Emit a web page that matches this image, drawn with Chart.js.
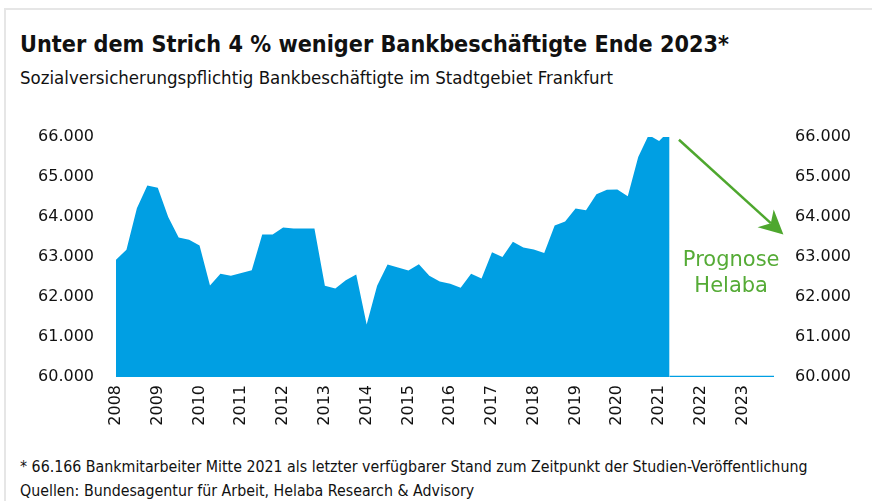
<!DOCTYPE html>
<html>
<head>
<meta charset="utf-8">
<script src="https://cdn.jsdelivr.net/npm/chart.js@4/dist/chart.umd.min.js"></script>
<style>
  html, body { margin: 0; padding: 0; background: #fff; }
  body { width: 872px; height: 501px; position: relative; overflow: hidden; }
  .frame { position: absolute; left: 4px; top: 8px; width: 900px; height: 600px;
           border-top: 2px solid #e6e6e6; border-left: 2px solid #e6e6e6; }
  .txt { position: absolute; left: 20px; white-space: nowrap; color: #111;
         font-family: "DejaVu Sans Condensed", "DejaVu Sans", sans-serif; font-stretch: condensed; }
  #title { top: 30px; font-size: 23.2px; font-weight: bold; }
  #sub { top: 67px; font-size: 18.5px; }
  #note1 { top: 457px; font-size: 15.8px; }
  #note2 { top: 481px; font-size: 15.8px; }
  #wrap { position: absolute; left: 0; top: 102px; width: 872px; height: 340px; }
</style>
</head>
<body>
<div class="frame"></div>
<div class="txt" id="title">Unter dem Strich 4 % weniger Bankbeschäftigte Ende 2023*</div>
<div class="txt" id="sub">Sozialversicherungspflichtig Bankbeschäftigte im Stadtgebiet Frankfurt</div>
<div class="txt" id="note1">* 66.166 Bankmitarbeiter Mitte 2021 als letzter verfügbarer Stand zum Zeitpunkt der Studien-Veröffentlichung</div>
<div class="txt" id="note2">Quellen: Bundesagentur für Arbeit, Helaba Research &amp; Advisory</div>
<div id="wrap"><canvas id="c"></canvas></div>
<script>
// Quartale 2008 Q1 bis 2023 Q4
const years    = [2008, 2009, 2010, 2011, 2012, 2013, 2014, 2015, 2016, 2017, 2018, 2019, 2020, 2021, 2022, 2023];
const quarters = ['Q1', 'Q2', 'Q3', 'Q4'];

// Bankbeschäftigte, quartalsweise, 2008 Q1 - 2021 Q2
const beschaeftigte = [
  62930, 63180, 64220, 64790,   // 2008
  64730, 64000, 63490, 63430,   // 2009
  63290, 62290, 62580, 62530,   // 2010
  62600, 62670, 63560, 63560,   // 2011
  63740, 63710, 63710, 63710,   // 2012
  62280, 62210, 62420, 62560,   // 2013
  61310, 62280, 62810, 62740,   // 2014
  62660, 62820, 62530, 62390,   // 2015
  62330, 62230, 62580, 62460,   // 2016
  63120, 63000, 63380, 63240,   // 2017
  63190, 63100, 63790, 63890,   // 2018
  64210, 64170, 64570, 64680,   // 2019
  64690, 64520, 65500, 66050,   // 2020
  65900, 66166                  // 2021
];

// Prognosezeitraum (Linie auf Achsenminimum)
const prognoseStart = '2021 Q2';
const prognoseWert  = 60000;

const yTicks = [60000, 61000, 62000, 63000, 64000, 65000, 66000];
const prognoseText = ['Prognose', 'Helaba'];

const labels = [];
years.forEach(y => quarters.forEach(q => labels.push(y + ' ' + q)));

const startIdx = labels.indexOf(prognoseStart);
const prognose = labels.map((l, i) => i >= startIdx ? prognoseWert : null);

const BLUE  = '#009fe3';
const GREEN = '#4ea72e';
const fmt = v => v.toLocaleString('de-DE');

// Pfeil + Text "Prognose Helaba"
const prognosePlugin = {
  id: 'prognose',
  afterDatasetsDraw(chart) {
    const { ctx, scales: { x, y } } = chart;
    const x0 = x.getPixelForValue(53.9), y0 = y.getPixelForValue(65930);
    const x1 = x.getPixelForValue(63.9), y1 = y.getPixelForValue(63560);
    const dx = x1 - x0, dy = y1 - y0, len = Math.hypot(dx, dy);
    const ux = dx / len, uy = dy / len, px = -uy, py = ux;
    const hl = 24, hw = 12, notch = 17;
    ctx.save();
    ctx.strokeStyle = GREEN;
    ctx.fillStyle = GREEN;
    ctx.lineWidth = 2.5;
    ctx.beginPath();
    ctx.moveTo(x0, y0);
    ctx.lineTo(x1 - ux * notch, y1 - uy * notch);
    ctx.stroke();
    ctx.beginPath();
    ctx.moveTo(x1, y1);
    ctx.lineTo(x1 - ux * hl + px * hw, y1 - uy * hl + py * hw);
    ctx.lineTo(x1 - ux * notch, y1 - uy * notch);
    ctx.lineTo(x1 - ux * hl - px * hw, y1 - uy * hl - py * hw);
    ctx.closePath();
    ctx.fill();

    ctx.fillStyle = '#55ab36';
    ctx.font = '21px "DejaVu Sans"';
    ctx.textAlign = 'center';
    ctx.textBaseline = 'alphabetic';
    const tx = x.getPixelForValue(58.9);
    ctx.fillText(prognoseText[0], tx, y.getPixelForValue(62770));
    ctx.fillText(prognoseText[1], tx, y.getPixelForValue(62120));
    ctx.restore();
  }
};

const tickFont = { family: '"DejaVu Sans"', size: 16 };

new Chart(document.getElementById('c'), {
  type: 'line',
  data: {
    labels,
    datasets: [
      {
        data: beschaeftigte,
        backgroundColor: BLUE,
        borderColor: BLUE,
        borderWidth: 0,
        pointRadius: 0,
        tension: 0,
        fill: 'start',
        clip: 0
      },
      {
        data: prognose,
        borderColor: BLUE,
        borderWidth: 2.5,
        pointRadius: 0,
        fill: false,
        spanGaps: false
      }
    ]
  },
  options: {
    responsive: true,
    maintainAspectRatio: false,
    animation: false,
    layout: { padding: { top: 35, left: 0, right: 0, bottom: 0 } },
    plugins: { legend: { display: false }, tooltip: { enabled: false } },
    scales: {
      x: {
        grid: { display: false, drawTicks: false },
        border: { display: false },
        afterFit: s => { s.height = 65; },
        ticks: {
          color: '#111',
          font: tickFont,
          autoSkip: false,
          minRotation: 90,
          maxRotation: 90,
          padding: 8,
          callback: (v, i) => i % 4 === 0 ? labels[i].slice(0, 4) : null
        }
      },
      y: {
        position: 'left',
        min: 60000,
        max: 66000,
        grid: { display: false, drawTicks: false },
        border: { display: false },
        afterFit: s => { s.width = 116; },
        afterBuildTicks: s => { s.ticks = yTicks.map(v => ({ value: v })); },
        ticks: { color: '#111', font: tickFont, padding: 22, callback: fmt }
      },
      y2: {
        position: 'right',
        min: 60000,
        max: 66000,
        grid: { display: false, drawTicks: false },
        border: { display: false },
        afterFit: s => { s.width = 98; },
        afterBuildTicks: s => { s.ticks = yTicks.map(v => ({ value: v })); },
        ticks: { color: '#111', font: tickFont, padding: 21, callback: fmt }
      }
    }
  },
  plugins: [prognosePlugin]
});
</script>
</body>
</html>
